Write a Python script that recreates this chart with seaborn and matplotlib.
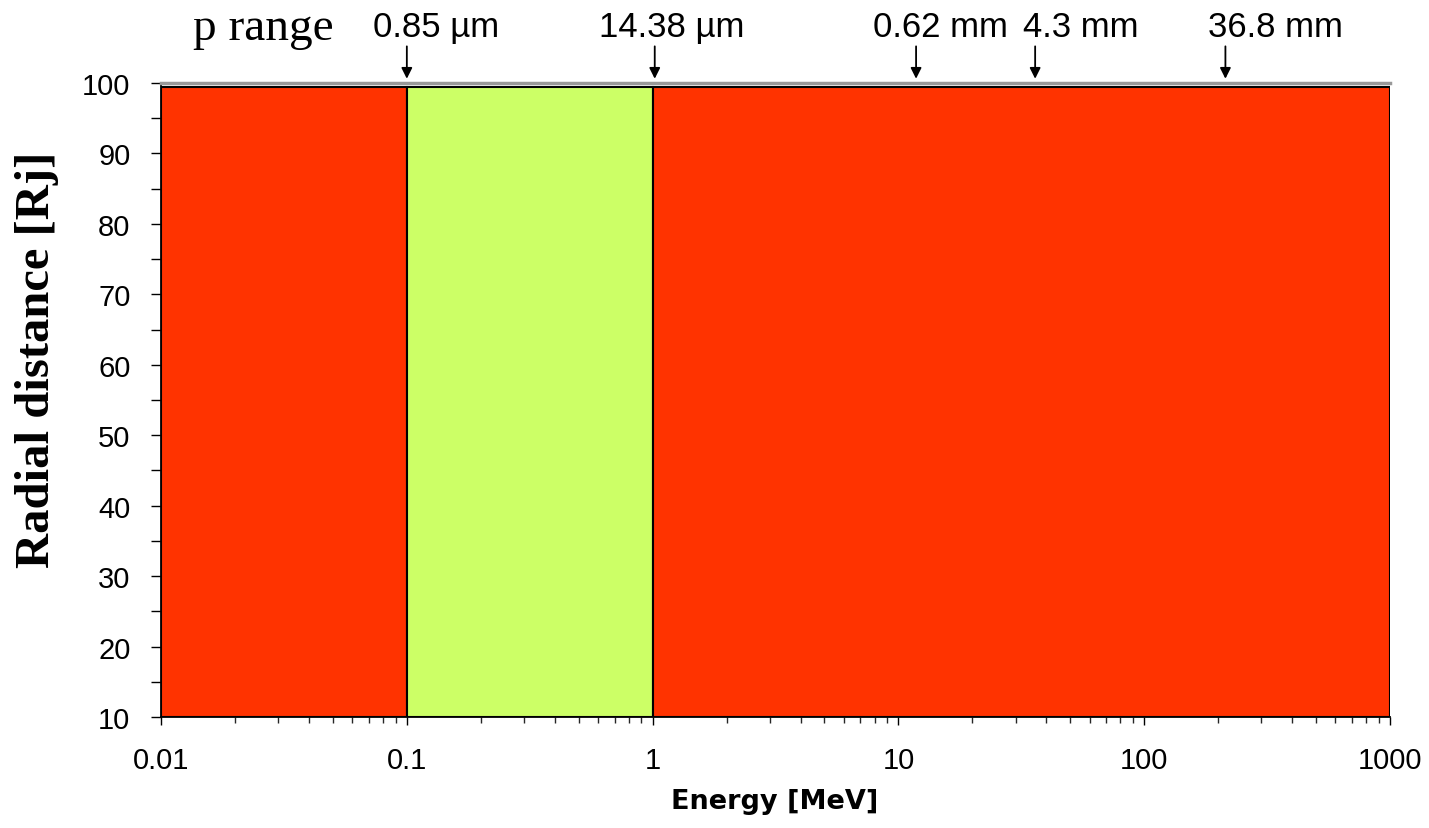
import matplotlib
matplotlib.use("Agg")
import matplotlib.pyplot as plt
from matplotlib.ticker import MultipleLocator, LogLocator, FixedLocator, FixedFormatter, NullFormatter
import seaborn as sns

# Energy bands (MeV) and their fill colours
band_edges = [0.01, 0.1, 1.0, 1000.0]
band_colors = ["#FF3300", "#CCFF66", "#FF3300"]
band_top = 99.5
r_min, r_max = 10, 100

# Marker energies (MeV) with their range labels
marker_energy = [0.1, 1.02, 11.8, 36.0, 214.0]
marker_label = ["0.85 µm", "14.38 µm", "0.62 mm", "4.3 mm", "36.8 mm"]
label_energy = [0.132, 1.19, 14.8, 55.0, 342.0]

xtick_values = [0.01, 0.1, 1, 10, 100, 1000]
xtick_labels = ["0.01", "0.1", "1", "10", "100", "1000"]
ytick_values = [10, 20, 30, 40, 50, 60, 70, 80, 90, 100]

sns.set_theme(style="ticks")
plt.rcParams["font.family"] = ["Liberation Sans", "DejaVu Sans"]
plt.rcParams["text.color"] = "black"
plt.rcParams["axes.labelcolor"] = "black"

fig = plt.figure(figsize=(14.29, 8.29), dpi=100)
ax = fig.add_axes([0.1127, 0.1339, 0.86, 0.7648])
ax.set_xscale("log")
ax.set_xlim(band_edges[0], band_edges[-1])
ax.set_ylim(r_min, r_max)

# Coloured energy bands
for left, right, col in zip(band_edges[:-1], band_edges[1:], band_colors):
    ax.bar(left, band_top - r_min, width=right - left, bottom=r_min, align="edge",
           color=col, edgecolor="black", linewidth=1.5, zorder=2)

# Spines
for side in ["left", "bottom"]:
    ax.spines[side].set_color("black")
    ax.spines[side].set_linewidth(1.3)
ax.spines["right"].set_visible(False)
ax.spines["top"].set_color("#999999")
ax.spines["top"].set_linewidth(2.5)

# Ticks
ax.xaxis.set_major_locator(FixedLocator(xtick_values))
ax.xaxis.set_major_formatter(FixedFormatter(xtick_labels))
ax.xaxis.set_minor_locator(LogLocator(base=10, subs=range(2, 10), numticks=20))
ax.xaxis.set_minor_formatter(NullFormatter())
ax.yaxis.set_major_locator(FixedLocator(ytick_values))
ax.yaxis.set_minor_locator(MultipleLocator(5))
ax.tick_params(axis="y", which="both", direction="out", length=7, width=1.0,
               labelsize=21, pad=15, colors="black", left=True)
ax.tick_params(axis="x", which="major", direction="out", length=6, width=1.0,
               labelsize=21, pad=15, colors="black", bottom=True)
ax.tick_params(axis="x", which="minor", direction="out", length=4, width=1.0, bottom=True)

ax.set_xlabel("Energy [MeV]", fontsize=19.5, fontweight="bold",
              family=["DejaVu Sans"], color="black")
ax.xaxis.set_label_coords(0.4996, -0.112)
ax.set_ylabel("Radial distance [Rj]", fontsize=35, fontweight="bold",
              family=["Liberation Serif", "DejaVu Serif"], color="black")
ax.yaxis.set_label_coords(-0.083, 0.565)

# Range markers above the plot
for e in marker_energy:
    ax.annotate("", xy=(e, 100.6), xytext=(e, 105.2), xycoords="data",
                arrowprops=dict(arrowstyle="-|>", color="black", lw=1.3,
                                mutation_scale=16, shrinkA=0, shrinkB=0),
                annotation_clip=False)
for e, txt in zip(label_energy, marker_label):
    ax.text(e, 106.7, txt, ha="center", va="baseline", fontsize=25,
            color="black", clip_on=False)

ax.text(0.0135, 106.2, "p range", ha="left", va="baseline", fontsize=34,
        family=["Liberation Serif", "DejaVu Serif"], color="black", clip_on=False)

fig.savefig("out.png", dpi=100)
